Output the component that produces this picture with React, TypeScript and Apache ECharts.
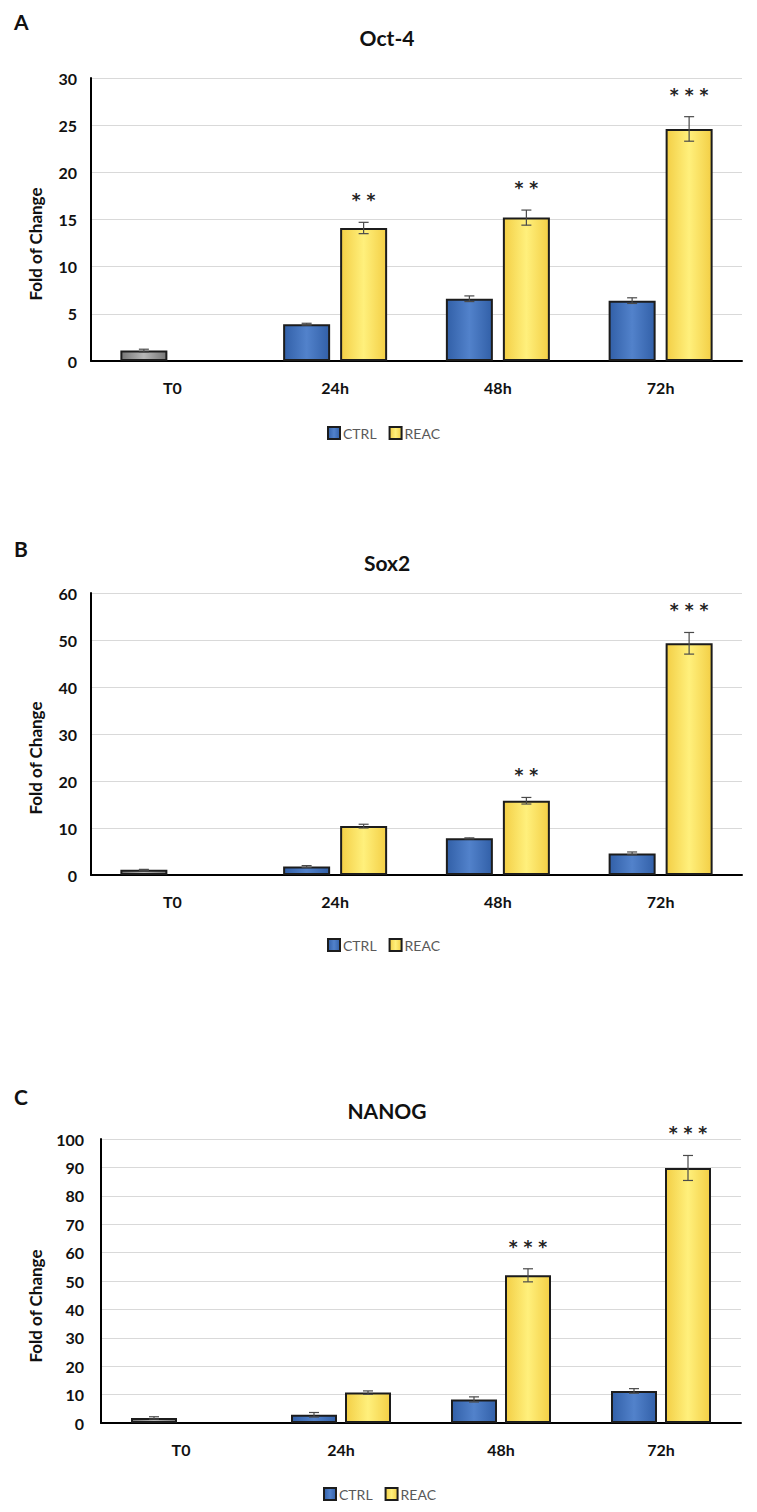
import React, { useEffect, useRef } from 'react';
import * as echarts from 'echarts';

// ---------- data ----------
const CATEGORIES = ['T0', '24h', '48h', '72h'];
const LEGEND_NAMES = ['CTRL', 'REAC'];

const OCT4_CTRL = [1.1, 3.9, 6.6, 6.4];
const OCT4_CTRL_ERR = [0.15, 0.1, 0.3, 0.3];
const OCT4_REAC = [null, 14.1, 15.2, 24.6];
const OCT4_REAC_ERR = [null, 0.6, 0.8, 1.3];
const OCT4_SIG = ['', '* *', '* *', '* * *'];

const SOX2_CTRL = [1.1, 1.8, 7.8, 4.6];
const SOX2_CTRL_ERR = [0.1, 0.2, 0.1, 0.3];
const SOX2_REAC = [null, 10.4, 15.8, 49.3];
const SOX2_REAC_ERR = [null, 0.4, 0.7, 2.3];
const SOX2_SIG = ['', '', '* *', '* * *'];

const NANOG_CTRL = [1.8, 2.9, 8.3, 11.3];
const NANOG_CTRL_ERR = [0.4, 0.8, 0.9, 0.8];
const NANOG_REAC = [null, 10.7, 52.0, 89.8];
const NANOG_REAC_ERR = [null, 0.6, 2.3, 4.4];
const NANOG_SIG = ['', '', '* * *', '* * *'];

const Y_MAX = [30, 60, 100];
const Y_INTERVAL = [5, 10, 10];
const TITLES = ['Oct-4', 'Sox2', 'NANOG'];
const LETTERS = ['A', 'B', 'C'];
const Y_NAME = 'Fold of Change';

// ---------- layout ----------
const LAYOUT = [
  { grid: { left: 91, top: 78, width: 651, height: 283 }, bw: 47, gap: 10, letterY: 22, titleY: 37, nameY: 244, legendTop: 421, legendLeft: 322, yMargin: 14 },
  { grid: { left: 91, top: 593, width: 651, height: 282 }, bw: 47, gap: 10, letterY: 549, titleY: 562, nameY: 758, legendTop: 933, legendLeft: 322, yMargin: 14 },
  { grid: { left: 101, top: 1139, width: 640, height: 284 }, bw: 46, gap: 8, letterY: 1097, titleY: 1110, nameY: 1306, legendTop: 1482, legendLeft: 318, yMargin: 17 },
];

const FONT = 'Lato, "Open Sans", sans-serif';

const grad = (edge: string, mid: string) => ({
  type: 'linear', x: 0, y: 0, x2: 1, y2: 0,
  colorStops: [
    { offset: 0, color: edge },
    { offset: 0.5, color: mid },
    { offset: 1, color: edge },
  ],
});
const BLUE = grad('#3260a8', '#5282cb');
const YELLOW = grad('#f3cf46', '#fff07c');
const GRAY = grad('#767676', '#b8b8b8');

function buildOption() {
  const panels = [
    { ctrl: OCT4_CTRL, ctrlErr: OCT4_CTRL_ERR, reac: OCT4_REAC, reacErr: OCT4_REAC_ERR, sig: OCT4_SIG },
    { ctrl: SOX2_CTRL, ctrlErr: SOX2_CTRL_ERR, reac: SOX2_REAC, reacErr: SOX2_REAC_ERR, sig: SOX2_SIG },
    { ctrl: NANOG_CTRL, ctrlErr: NANOG_CTRL_ERR, reac: NANOG_REAC, reacErr: NANOG_REAC_ERR, sig: NANOG_SIG },
  ];

  const grid: any[] = [];
  const xAxis: any[] = [];
  const yAxis: any[] = [];
  const series: any[] = [];
  const legend: any[] = [];
  const graphic: any[] = [];

  panels.forEach((p, k) => {
    const L = LAYOUT[k];
    grid.push({ ...L.grid });
    xAxis.push({
      type: 'category', gridIndex: k, data: CATEGORIES,
      axisLine: { lineStyle: { color: '#000', width: 2 } },
      axisTick: { show: false },
      axisLabel: { fontFamily: FONT, fontWeight: 'bold', fontSize: 16, color: '#111', margin: 18 },
    });
    yAxis.push({
      type: 'value', gridIndex: k, min: 0, max: Y_MAX[k], interval: Y_INTERVAL[k],
      axisLine: { show: true, lineStyle: { color: '#000', width: 2 } },
      axisTick: { show: false },
      splitLine: { lineStyle: { color: '#d9d9d9', width: 1 } },
      axisLabel: { fontFamily: FONT, fontWeight: 'bold', fontSize: 16, color: '#111', margin: L.yMargin },
    });
    const barGap = `${(L.gap / L.bw) * 100}%`;
    series.push({
      type: 'bar', name: 'CTRL', xAxisIndex: k, yAxisIndex: k,
      data: p.ctrl.map((v, i) => (i === 0 ? { value: v, itemStyle: { color: GRAY } } : v)),
      barWidth: L.bw, barGap,
      itemStyle: { color: BLUE, borderColor: '#1c1c1c', borderWidth: 2 },
    });
    series.push({
      type: 'bar', name: 'REAC', xAxisIndex: k, yAxisIndex: k,
      data: p.reac,
      barWidth: L.bw, barGap,
      itemStyle: { color: YELLOW, borderColor: '#1c1c1c', borderWidth: 2 },
    });
    const errData: any[] = [];
    p.ctrl.forEach((v, i) => { if (v != null) errData.push([i, v, p.ctrlErr[i], -1]); });
    p.reac.forEach((v, i) => { if (v != null) errData.push([i, v, p.reacErr[i] as number, 1]); });
    const offset = L.gap / 2 + L.bw / 2;
    series.push({
      type: 'custom', xAxisIndex: k, yAxisIndex: k, z: 10, silent: true,
      data: errData,
      renderItem: (params: any, api: any) => {
        const i = api.value(0);
        const v = api.value(1);
        const e = api.value(2);
        const side = api.value(3);
        const c = api.coord([i, v]);
        const x = c[0] + side * offset;
        const yt = api.coord([i, v + e])[1];
        const yb = api.coord([i, Math.max(0, v - e)])[1];
        const st = { stroke: '#4a4a4a', lineWidth: 1.2 };
        const cap = 5;
        const children: any[] = [
          { type: 'line', shape: { x1: x, y1: yt, x2: x, y2: yb }, style: st },
          { type: 'line', shape: { x1: x - cap, y1: yt, x2: x + cap, y2: yt }, style: st },
          { type: 'line', shape: { x1: x - cap, y1: yb, x2: x + cap, y2: yb }, style: st },
        ];
        const s = side > 0 ? p.sig[i] : '';
        if (s) {
          children.push({
            type: 'text',
            style: { text: s, x, y: yt - 22, align: 'center', verticalAlign: 'middle', font: 'bold 17px "DejaVu Sans", sans-serif', fill: '#222' },
          });
        }
        return { type: 'group', children };
      },
    });
    legend.push({
      data: LEGEND_NAMES, left: L.legendLeft, top: L.legendTop,
      itemWidth: 12, itemHeight: 12, itemGap: 12, icon: 'rect',
      textStyle: { fontFamily: FONT, fontSize: 14, color: '#595959', padding: [0, 0, 0, -2] },
      selectedMode: false,
    });
    graphic.push({
      type: 'text', left: 14, top: L.letterY - 11,
      style: { text: LETTERS[k], font: `bold 21px ${FONT}`, fill: '#111' },
    });
    graphic.push({
      type: 'text', x: 387, y: L.titleY,
      style: { text: TITLES[k], font: `bold 21px ${FONT}`, fill: '#111', align: 'center', verticalAlign: 'middle' },
    });
    graphic.push({
      type: 'text', x: 35, y: L.nameY, rotation: Math.PI / 2,
      style: { text: Y_NAME, font: `bold 17px ${FONT}`, fill: '#111', align: 'center', verticalAlign: 'middle' },
    });
  });

  return { animation: false, backgroundColor: '#fff', grid, xAxis, yAxis, series, legend, graphic };
}

export default function App() {
  const ref = useRef<HTMLDivElement>(null);
  useEffect(() => {
    document.body.style.margin = '0';
    const chart = echarts.init(ref.current as HTMLDivElement, null, { renderer: 'svg' });
    chart.setOption(buildOption() as any);
    return () => chart.dispose();
  }, []);
  return <div ref={ref} style={{ width: 757, height: 1512 }} />;
}
